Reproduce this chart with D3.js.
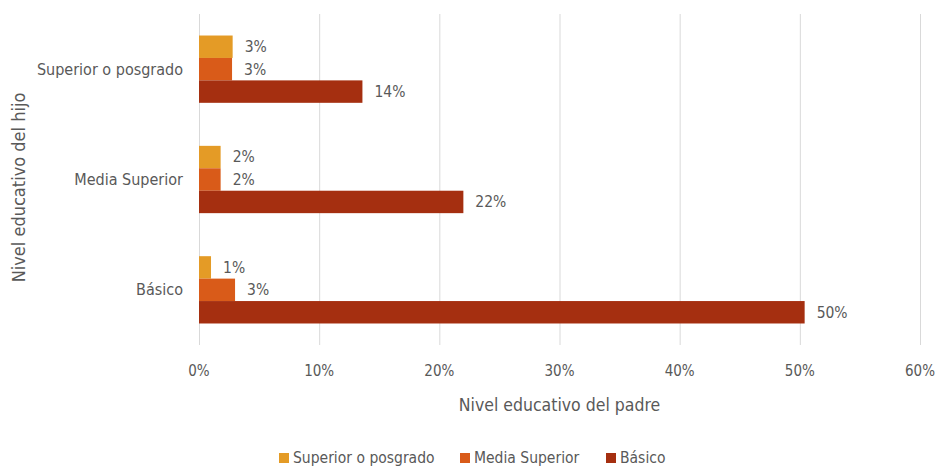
<!DOCTYPE html>
<html>
<head>
<meta charset="utf-8">
<script src="https://cdn.jsdelivr.net/npm/d3@7"></script>
<style>
  body { margin: 0; background: #fff; }
  svg text { font-family: "Liberation Sans Narrow", "DejaVu Sans Condensed", "Open Sans", sans-serif; fill: #595959; }
</style>
</head>
<body>
<svg id="vis" width="936" height="469"></svg>
<script>
// categories of the child's education (top to bottom)
const categories = ['Superior o posgrado', 'Media Superior', 'Básico'];
// series = father's education
const seriesNames = ['Superior o posgrado', 'Media Superior', 'Básico'];
const seriesColors = ['#E49B26', '#D95B19', '#A52F10'];
// values in %, per category, per series
const valSuperior = [2.8, 2.75, 13.6];
const valMedia = [1.8, 1.8, 22.0];
const valBasico = [1.0, 3.0, 50.4];
const valueLabels = [['3%', '3%', '14%'], ['2%', '2%', '22%'], ['1%', '3%', '50%']];
const xTicks = [0, 10, 20, 30, 40, 50, 60];

const values = [valSuperior, valMedia, valBasico];

const vis = d3.select('#vis');
const plot = { left: 199, right: 920, top: 14, bottom: 345 };

const x = d3.scaleLinear().domain([0, 60]).range([plot.left, plot.right]);
const y = d3.scaleBand().domain(categories).range([plot.top, plot.bottom]).paddingInner(0.39).paddingOuter(0.195);
const ySeries = d3.scaleBand().domain(d3.range(seriesNames.length)).range([0, y.bandwidth()]);

// vertical gridlines
vis.append('g')
  .selectAll('line')
  .data(xTicks)
  .enter()
    .append('line')
    .attr('x1', d => x(d) + 0.5)
    .attr('x2', d => x(d) + 0.5)
    .attr('y1', plot.top)
    .attr('y2', plot.bottom)
    .attr('stroke', '#d9d9d9')
    .attr('stroke-width', 1);

// x tick labels
vis.append('g')
  .selectAll('text')
  .data(xTicks)
  .enter()
    .append('text')
    .attr('x', d => x(d))
    .attr('y', 376)
    .attr('text-anchor', 'middle')
    .attr('font-size', 15)
    .text(d => d + '%');

// bars
const groups = vis.append('g')
  .selectAll('g')
  .data(categories)
  .enter()
    .append('g')
    .attr('transform', d => 'translate(0,' + y(d) + ')');

groups.selectAll('rect')
  .data((d, ci) => values[ci].map((v, si) => ({ v, si, ci })))
  .enter()
    .append('rect')
    .attr('x', x(0))
    .attr('y', d => ySeries(d.si))
    .attr('width', d => x(d.v) - x(0))
    .attr('height', ySeries.bandwidth())
    .attr('fill', d => seriesColors[d.si]);

groups.selectAll('text.val')
  .data((d, ci) => values[ci].map((v, si) => ({ v, si, ci })))
  .enter()
    .append('text')
    .classed('val', true)
    .attr('x', d => x(d.v) + 12)
    .attr('y', d => ySeries(d.si) + ySeries.bandwidth() / 2)
    .attr('dy', '0.35em')
    .attr('font-size', 15.5)
    .text(d => valueLabels[d.ci][d.si]);

// category labels
vis.append('g')
  .selectAll('text')
  .data(categories)
  .enter()
    .append('text')
    .attr('x', 183)
    .attr('y', d => y(d) + y.bandwidth() / 2)
    .attr('dy', '0.35em')
    .attr('text-anchor', 'end')
    .attr('font-size', 16)
    .text(d => d);

// axis titles
vis.append('text')
  .attr('x', (plot.left + plot.right) / 2)
  .attr('y', 411)
  .attr('text-anchor', 'middle')
  .attr('font-size', 17.5)
  .text('Nivel educativo del padre');

vis.append('text')
  .attr('transform', 'translate(25,' + ((plot.top + plot.bottom) / 2 + 8) + ') rotate(-90)')
  .attr('text-anchor', 'middle')
  .attr('font-size', 18)
  .text('Nivel educativo del hijo');

// legend
const legendItems = [
  { name: seriesNames[0], color: seriesColors[0], x: 279 },
  { name: seriesNames[1], color: seriesColors[1], x: 460 },
  { name: seriesNames[2], color: seriesColors[2], x: 606 }
];
const legend = vis.append('g')
  .selectAll('g')
  .data(legendItems)
  .enter()
    .append('g')
    .attr('transform', d => 'translate(' + d.x + ',458)');

legend.append('rect')
  .attr('x', 0)
  .attr('y', -5)
  .attr('width', 10)
  .attr('height', 10)
  .attr('fill', d => d.color);

legend.append('text')
  .attr('x', 14)
  .attr('y', 0)
  .attr('dy', '0.35em')
  .attr('font-size', 15.5)
  .text(d => d.name);
</script>
</body>
</html>
